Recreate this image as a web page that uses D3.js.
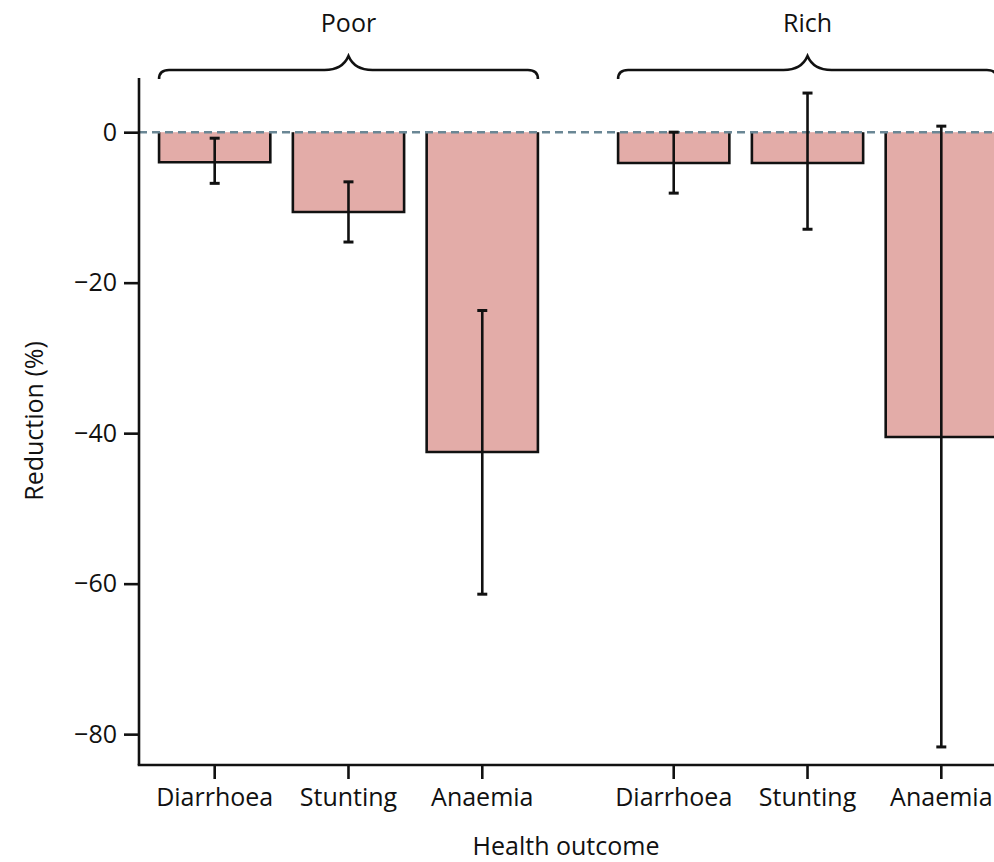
<!DOCTYPE html>
<html>
<head>
<meta charset="utf-8">
<script src="https://cdn.jsdelivr.net/npm/d3@7/dist/d3.min.js"></script>
<style>
  html, body { margin: 0; padding: 0; background: #fff; }
  svg { display: block; }
  text { font-family: 'Open Sans', sans-serif; fill: #111; }
</style>
</head>
<body>
<div id="chart"></div>
<script>
  const groups = ['Poor', 'Rich']
  const outcomes = ['Diarrhoea', 'Stunting', 'Anaemia']
  // reduction (%) per group, in outcome order
  const poorValues = [-4.0, -10.6, -42.5]
  const poorLower = [-6.8, -14.6, -61.4]
  const poorUpper = [-0.8, -6.6, -23.7]
  const richValues = [-4.1, -4.1, -40.5]
  const richLower = [-8.1, -12.9, -81.7]
  const richUpper = [0.0, 5.2, 0.8]
  const yTicks = [0, -20, -40, -60, -80]

  const width = 994
  const height = 862
  const FONT_SIZE = 25
  const BAR_FILL = '#e3aca8'

  const rows = []
  groups.forEach((g, gi) => {
    const v = gi === 0 ? poorValues : richValues
    const lo = gi === 0 ? poorLower : richLower
    const hi = gi === 0 ? poorUpper : richUpper
    outcomes.forEach((o, i) => rows.push({group: g, outcome: o, value: v[i], lower: lo[i], upper: hi[i]}))
  })

  const axisX = 139
  const x0 = d3.scaleBand().domain(groups).range([axisX, 1017])
    .paddingInner(0.1747).paddingOuter(0.0437)
  const x1 = d3.scaleBand().domain(outcomes).range([0, x0.bandwidth()])
    .paddingInner(0.1685).paddingOuter(0)
  const y = d3.scaleLinear().domain([7.2, -84.1]).range([78, 765])

  const svg = d3.select('#chart').append('svg')
    .attr('width', width).attr('height', height)

  // bars: fill plus open-topped outline
  const bar = svg.selectAll('g.bar').data(rows).enter().append('g').classed('bar', true)
    .attr('transform', d => `translate(${x0(d.group) + x1(d.outcome)},0)`)
  bar.append('rect')
    .attr('x', 0).attr('width', x1.bandwidth())
    .attr('y', y(0)).attr('height', d => y(d.value) - y(0))
    .attr('fill', BAR_FILL)
  bar.append('path')
    .attr('d', d => `M0,${y(0)}V${y(d.value)}H${x1.bandwidth()}V${y(0)}`)
    .attr('fill', 'none').attr('stroke', '#111').attr('stroke-width', 2.6)

  // zero reference line
  svg.append('line')
    .attr('x1', axisX).attr('x2', width).attr('y1', y(0)).attr('y2', y(0))
    .attr('stroke', '#6a8795').attr('stroke-width', 2.4).attr('stroke-dasharray', '8,5')

  // error bars
  const err = svg.selectAll('g.err').data(rows).enter().append('g').classed('err', true)
    .attr('transform', d => `translate(${x0(d.group) + x1(d.outcome) + x1.bandwidth() / 2},0)`)
  err.append('line')
    .attr('y1', d => y(d.upper)).attr('y2', d => y(d.lower))
    .attr('stroke', '#111').attr('stroke-width', 2.6)
  err.selectAll('line.cap').data(d => [d.upper, d.lower]).enter().append('line').classed('cap', true)
    .attr('x1', -5).attr('x2', 5).attr('y1', d => y(d)).attr('y2', d => y(d))
    .attr('stroke', '#111').attr('stroke-width', 3)

  // y axis
  const yAxis = d3.axisLeft(y).tickValues(yTicks).tickSize(15).tickPadding(7)
    .tickFormat(d => d === 0 ? '0' : '\u2212' + Math.abs(d))
  svg.append('g').attr('transform', `translate(${axisX},0)`).call(yAxis)
    .call(g => {
      g.select('.domain').attr('d', `M0,${y.range()[0]}V${y.range()[1]}`).attr('stroke', '#111').attr('stroke-width', 2.6)
      g.selectAll('.tick line').attr('stroke', '#111').attr('stroke-width', 2.6)
      g.selectAll('.tick text').attr('font-size', FONT_SIZE).attr('font-family', null).attr('fill', '#111')
    })

  // x axis
  svg.append('line')
    .attr('x1', axisX - 1.3).attr('x2', width).attr('y1', y.range()[1]).attr('y2', y.range()[1])
    .attr('stroke', '#111').attr('stroke-width', 2.6)
  const xt = svg.selectAll('g.xtick').data(rows).enter().append('g').classed('xtick', true)
    .attr('transform', d => `translate(${x0(d.group) + x1(d.outcome) + x1.bandwidth() / 2},${y.range()[1]})`)
  xt.append('line').attr('y1', 0).attr('y2', 14).attr('stroke', '#111').attr('stroke-width', 2.6)
  xt.append('text').text(d => d.outcome)
    .attr('y', 41).attr('text-anchor', 'middle').attr('font-size', FONT_SIZE)

  // group braces
  const brace = svg.selectAll('g.brace').data(groups).enter().append('g').classed('brace', true)
  brace.append('path')
    .attr('d', g => {
      const a = x0(g), b = x0(g) + x0.bandwidth(), c = (a + b) / 2
      return `M${a},79 Q${a},70 ${a + 10},70 L${c - 24},70 Q${c - 6},70 ${c},56 Q${c + 6},70 ${c + 24},70 L${b - 10},70 Q${b},70 ${b},79`
    })
    .attr('fill', 'none').attr('stroke', '#111').attr('stroke-width', 2.6)
  brace.append('text').text(g => g)
    .attr('x', g => x0(g) + x0.bandwidth() / 2).attr('y', 32)
    .attr('text-anchor', 'middle').attr('font-size', FONT_SIZE)

  // axis titles
  svg.append('text').text('Reduction (%)')
    .attr('transform', 'translate(43,421) rotate(-90)')
    .attr('text-anchor', 'middle').attr('font-size', FONT_SIZE)
  svg.append('text').text('Health outcome')
    .attr('x', 566).attr('y', 855)
    .attr('text-anchor', 'middle').attr('font-size', FONT_SIZE)
</script>
</body>
</html>
